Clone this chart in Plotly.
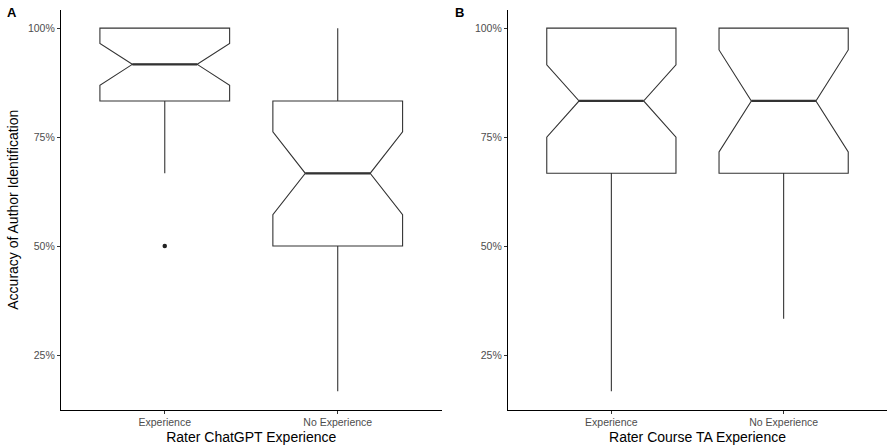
import plotly.graph_objects as go

# Groups shown on each panel
categories = ["Experience", "No Experience"]

# Panel A: rater ChatGPT experience (accuracy, %)
a_lower = [66.7, 16.7]
a_q1 = [83.3, 50.0]
a_median = [91.7, 66.7]
a_q3 = [100.0, 83.3]
a_upper = [100.0, 100.0]
a_notch = [4.8, 9.5]
a_outliers_x = [1]
a_outliers_y = [50.0]

# Panel B: rater course TA experience (accuracy, %)
b_lower = [16.7, 33.3]
b_q1 = [66.7, 66.7]
b_median = [83.3, 83.3]
b_q3 = [100.0, 100.0]
b_upper = [100.0, 100.0]
b_notch = [8.3, 11.7]

y_ticks = [25, 50, 75, 100]
y_ticklabels = ["25%", "50%", "75%", "100%"]

W, H = 887, 445
FONT = "Liberation Sans, Arial, sans-serif"
LINE = "#333333"
BOX_W = 0.75
NOTCH_W = 0.25

fig = go.Figure()


def add_panel(xa, ya, lower, q1, med, q3, upper, notch):
    xs = [i + 1 for i in range(len(categories))]
    fig.add_trace(go.Box(
        x=xs, q1=q1, median=med, q3=q3,
        lowerfence=lower, upperfence=upper, notchspan=notch,
        notched=True, notchwidth=NOTCH_W, width=BOX_W, whiskerwidth=0,
        boxpoints=False, fillcolor="white",
        line=dict(color=LINE, width=1.1),
        xaxis=xa, yaxis=ya, showlegend=False, hoverinfo="skip",
    ))
    # thicker median segments across the notch waist
    half = BOX_W / 2 * (1 - 2 * NOTCH_W)
    for x, m in zip(xs, med):
        fig.add_trace(go.Scatter(
            x=[x - half, x + half], y=[m, m], mode="lines",
            line=dict(color=LINE, width=2.2),
            xaxis=xa, yaxis=ya, showlegend=False, hoverinfo="skip",
        ))


add_panel("x", "y", a_lower, a_q1, a_median, a_q3, a_upper, a_notch)
fig.add_trace(go.Scatter(
    x=a_outliers_x, y=a_outliers_y, mode="markers",
    marker=dict(color="#222222", size=4.5),
    xaxis="x", yaxis="y", showlegend=False, hoverinfo="skip",
))
add_panel("x2", "y2", b_lower, b_q1, b_median, b_q3, b_upper, b_notch)

y_dom = [(H - 409.5) / H, (H - 10) / H]

xaxis_common = dict(
    range=[0.4, 2.6], tickvals=[1, 2], ticktext=categories,
    showline=True, linecolor="black", linewidth=1.2, mirror=False,
    ticks="outside", ticklen=3, tickcolor="#333333", tickwidth=1,
    showgrid=False, zeroline=False,
    tickfont=dict(family=FONT, size=10.5, color="#4d4d4d"),
    title_font=dict(family=FONT, size=14, color="black"),
    title_standoff=4,
)
yaxis_common = dict(
    range=[12.5, 104.17], tickvals=y_ticks, ticktext=y_ticklabels,
    showline=True, linecolor="black", linewidth=1.2,
    ticks="outside", ticklen=3, tickcolor="#333333", tickwidth=1,
    showgrid=False, zeroline=False,
    tickfont=dict(family=FONT, size=10.5, color="#4d4d4d"),
    title_font=dict(family=FONT, size=14, color="black"),
    domain=y_dom,
)

fig.update_layout(
    width=W, height=H,
    margin=dict(l=0, r=0, t=0, b=0),
    plot_bgcolor="white", paper_bgcolor="white",
    xaxis=dict(xaxis_common, domain=[61 / W, 441.5 / W],
               title_text="Rater ChatGPT Experience", anchor="y"),
    yaxis=dict(yaxis_common, anchor="x",
               title_text="Accuracy of Author Identification", title_standoff=6),
    xaxis2=dict(xaxis_common, domain=[508 / W, 1.0],
                title_text="Rater Course TA Experience", anchor="y2"),
    yaxis2=dict(yaxis_common, anchor="x2"),
    annotations=[
        dict(text="<b>A</b>", x=12 / W, y=1 - 12 / H, xref="paper", yref="paper",
             xanchor="center", yanchor="middle", showarrow=False,
             font=dict(family=FONT, size=13, color="black")),
        dict(text="<b>B</b>", x=459 / W, y=1 - 12 / H, xref="paper", yref="paper",
             xanchor="center", yanchor="middle", showarrow=False,
             font=dict(family=FONT, size=13, color="black")),
    ],
)

fig.write_html("out.html")
